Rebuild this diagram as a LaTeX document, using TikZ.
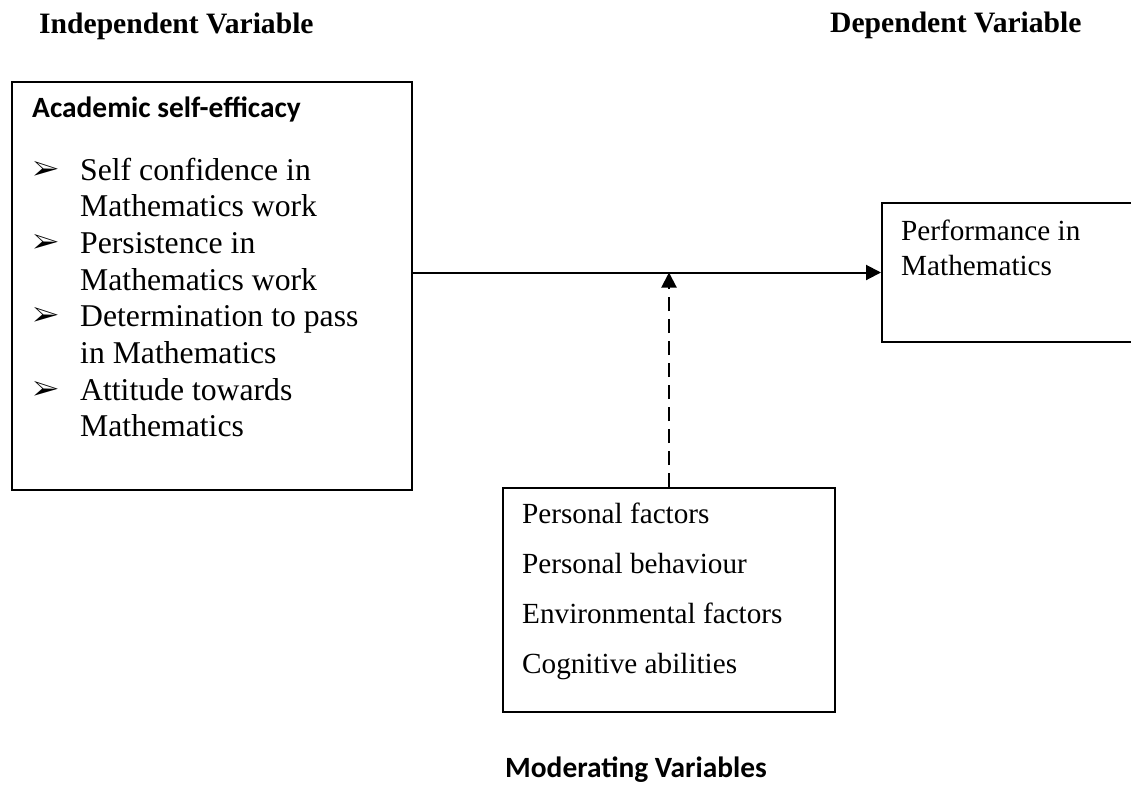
\documentclass[tikz,border=0pt]{standalone}
\usepackage{fontspec}
\setmainfont{Liberation Serif}
\newfontfamily\calibri{Carlito}
\usepackage{pifont}
\usetikzlibrary{arrows.meta, positioning, calc}
\tikzset{
  flowarr/.style={-{Triangle[length=15pt, width=15pt]}, line width=2pt, draw=black},
  modarr/.style={flowarr, dash pattern=on 14pt off 8pt},
  varbox/.style={draw=black, line width=2pt, inner sep=0pt, anchor=north west},
  hdrlabel/.style={font=\fontsize{29.6}{34}\selectfont\bfseries, inner sep=0pt, anchor=base west},
  boxtitle/.style={font=\fontsize{29.4}{34}\selectfont\calibri\bfseries, inner sep=0pt, anchor=base west},
  itemline/.style={font=\fontsize{31.7}{36.7}\selectfont, inner sep=0pt, anchor=base west},
  bulletsym/.style={font=\fontsize{28}{30}\selectfont, inner sep=0pt, anchor=base west},
  factline/.style={font=\fontsize{29.2}{34}\selectfont, inner sep=0pt, anchor=base west},
}
\begin{document}
\begin{tikzpicture}[x=1pt, y=-1pt]
  \useasboundingbox (0,0) rectangle (1131,785);

  % headings
  \node[hdrlabel] (indep) at (39,33) {Independent Variable};
  \node[hdrlabel] (dep) at (830,32) {Dependent Variable};

  % independent variable box
  \node[varbox, minimum width=400pt, minimum height=408pt] (lbox) at (11,81) {};
  \node[boxtitle] (ase) at (32,117) {Academic self-efficacy};
  \foreach \ln/\bul [count=\i] in {Self confidence in/1, Mathematics work/0,
      Persistence in/1, Mathematics work/0, Determination to pass/1,
      in Mathematics/0, Attitude towards/1, Mathematics/0} {
    \node[itemline] (ln\i) at (80,{143.3+36.7*\i}) {\ln};
    \ifnum\bul=1
      \node[bulletsym] (bl\i) at (33,{143.3+36.7*\i-2}) {\ding{226}};
    \fi
  }

  % dependent variable box
  \node[varbox, minimum width=259pt, minimum height=139pt] (rbox) at (881,202) {};
  \node[factline] (perf1) at (901,240) {Performance in};
  \node[factline] (perf2) at (901,275) {Mathematics};

  % moderating variables box
  \node[varbox, minimum width=332pt, minimum height=224pt] (mbox) at (502,487) {};
  \foreach \ln [count=\i] in {Personal factors, Personal behaviour,
      Environmental factors, Cognitive abilities} {
    \node[factline] (fac\i) at (522,{472.7+50.3*\i}) {\ln};
  }
  \node[boxtitle] (modvar) at (505,777) {Moderating Variables};

  % connectors
  \draw[flowarr] (rbox.west -| lbox.east) -- (rbox.west);
  \draw[modarr] (mbox.north) -- (mbox.north |- rbox.west);
\end{tikzpicture}
\end{document}
